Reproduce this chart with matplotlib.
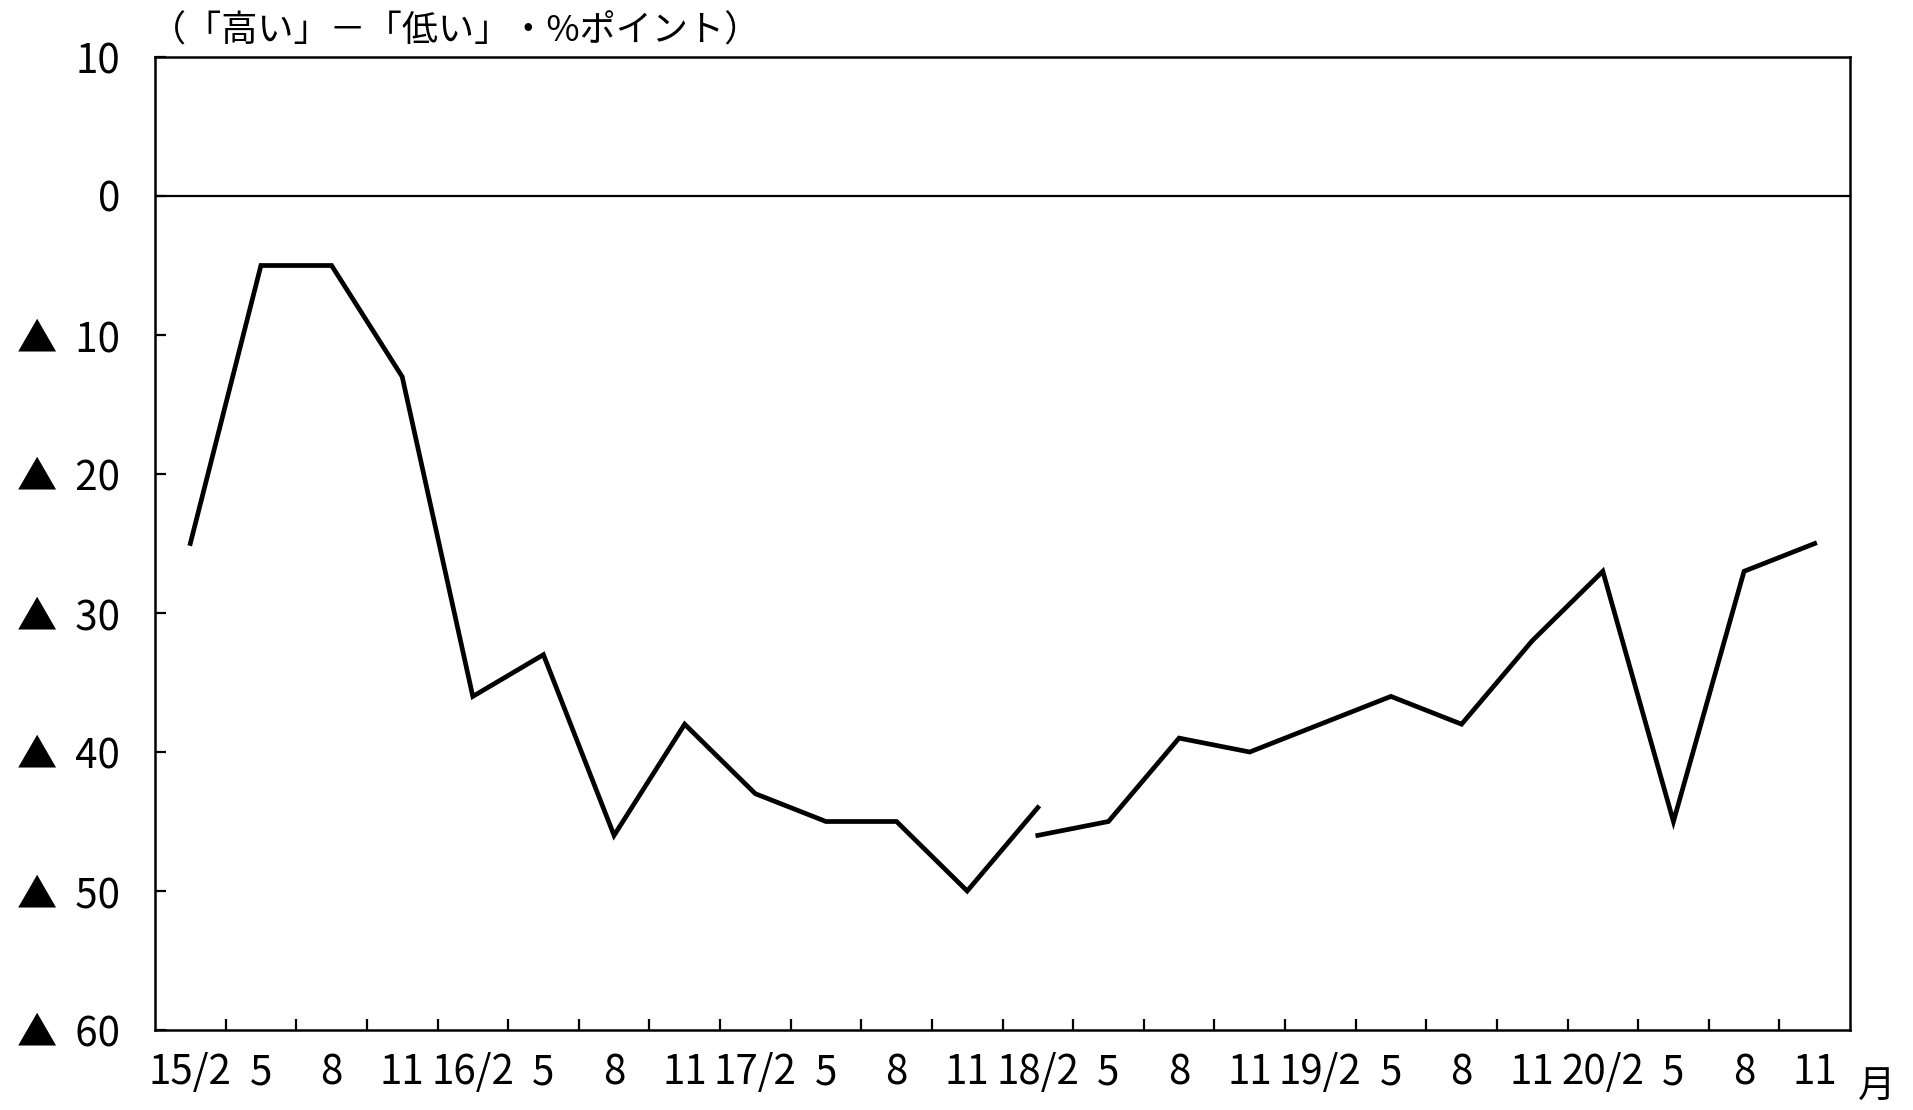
import matplotlib
matplotlib.use("Agg")
import matplotlib.pyplot as plt
import numpy as np

# ---------------------------------------------------------------------------
# Data (quarterly survey, 15/2 .. 20/11; series revised at 18/2)
# ---------------------------------------------------------------------------

QUARTER_LABELS = [
    "15/2", "5", "8", "11",
    "16/2", "5", "8", "11",
    "17/2", "5", "8", "11",
    "18/2", "5", "8", "11",
    "19/2", "5", "8", "11",
    "20/2", "5", "8", "11",
]

# old series: 15/2 .. 18/2
OLD_VALUES = [-25, -5, -5, -13, -36, -33, -46, -38, -43, -45, -45, -50, -44]
# new series: 18/2 .. 20/11
NEW_START = 12
NEW_VALUES = [-46, -45, -39, -40, -38, -36, -38, -32, -27, -45, -27, -25]

Y_TICKS = [10, 0, -10, -20, -30, -40, -50, -60]

TITLE = "（「高い」－「低い」・%ポイント）"
FONT = ["Noto Sans CJK JP", "DejaVu Sans"]

plt.rcParams["font.family"] = FONT


def ylab(v):
    return f"▲  {abs(v)}" if v < 0 else f"{v}"


W, H = 1913, 1110
fig = plt.figure(figsize=(W / 100, H / 100), dpi=100)
# axes box in pixels: left 155, right 1850, top 57, bottom 1030
ax = fig.add_axes([155 / W, 1 - 1030 / H, (1850 - 155) / W, (1030 - 57) / H])

x_old = np.arange(len(OLD_VALUES))
x_new = np.arange(NEW_START, NEW_START + len(NEW_VALUES))
ax.plot(x_old, OLD_VALUES, color="black", lw=3.4, solid_joinstyle="miter")
ax.plot(x_new, NEW_VALUES, color="black", lw=3.4, solid_joinstyle="miter")

ax.axhline(0, color="black", lw=1.6)

ax.set_xlim(-0.5, len(QUARTER_LABELS) - 0.5)
ax.set_ylim(-60, 10)

ax.set_xticks(np.arange(len(QUARTER_LABELS)))
ax.set_xticklabels(QUARTER_LABELS)
ax.set_xticks(np.arange(0.5, len(QUARTER_LABELS) - 1), minor=True)
ax.tick_params(axis="x", which="major", length=0, pad=16, labelsize=29)
ax.tick_params(axis="x", which="minor", direction="in", length=8, width=1.6)

ax.set_yticks(Y_TICKS)
ax.set_yticklabels([ylab(v) for v in Y_TICKS])
ax.tick_params(axis="y", direction="in", length=8, width=1.6, pad=25, labelsize=29)

for s in ax.spines.values():
    s.set_linewidth(1.8)

fig.text(150 / W, 1 - 32 / H, TITLE, fontsize=26, va="center", ha="left")
fig.text(1877 / W, 1 - 1087 / H, "月", fontsize=27, va="center", ha="center")

fig.savefig("out.png", dpi=100)
